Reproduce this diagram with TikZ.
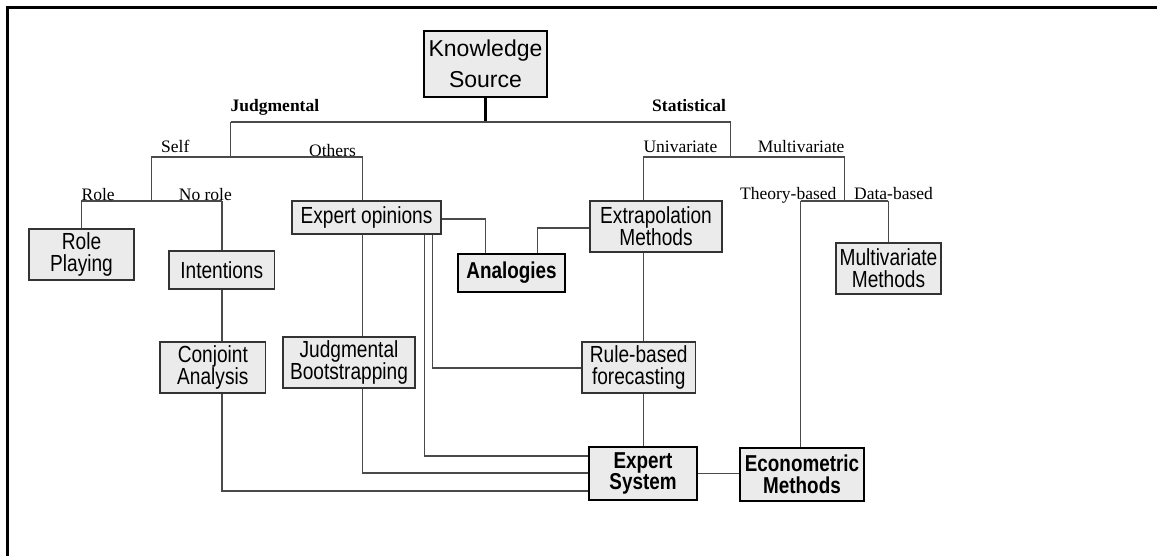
\documentclass[tikz,border=0pt]{standalone}
\usepackage{fontspec}
\newfontfamily\nfont{Liberation Sans}[FakeStretch=0.82]
\newfontfamily\wfont{Liberation Sans}
\newfontfamily\lblfont{Liberation Serif}
\definecolor{boxgray}{HTML}{EBEBEB}
\definecolor{linegray}{HTML}{4A4A4A}
\definecolor{boxline}{HTML}{333333}
\tikzset{
  box/.style={draw=boxline, line width=1.1pt, fill=boxgray, inner sep=0pt, align=center,
    font=\nfont\fontsize{23.3}{21.8}\selectfont},
  thickbox/.style={box, draw=black, line width=2.4pt,
    font=\nfont\bfseries\fontsize{23}{21.8}\selectfont},
  conn/.style={draw=linegray, line width=1.1pt},
  lbl/.style={font=\lblfont\fontsize{17.5}{18}\selectfont, inner sep=0pt, anchor=base west},
}
\begin{document}
\begin{tikzpicture}[x=1pt,y=-1pt]
\useasboundingbox (0,0) rectangle (1157,556);
% frame
\draw[line width=2.6pt] (7.4,556) -- (7.4,7.4) -- (1157,7.4);

% boxes
\node[thickbox, font=\wfont\fontsize{23}{31}\selectfont, minimum width=123, minimum height=66] (ks) at (485.5,64) {Knowledge\\Source};
\node[box, minimum width=105, minimum height=51] (rp) at (81.5,254.5) {Role\\Playing};
\node[box, minimum width=105.5, minimum height=38] (int) at (221.75,270) {Intentions};
\node[box, minimum width=149, minimum height=33] (eo) at (366.5,217.5) {Expert opinions};
\node[thickbox, minimum width=107, minimum height=38] (an) at (511.5,273) {Analogies};
\node[box, minimum width=132, minimum height=51] (em) at (656,226.5) {Extrapolation\\Methods};
\node[box, minimum width=105, minimum height=51] (mm) at (888.5,268.5) {Multivariate\\Methods};
\node[box, minimum width=105.6, minimum height=51] (ca) at (212.8,367.5) {Conjoint\\Analysis};
\node[box, minimum width=132, minimum height=51] (jb) at (349,362.5) {Judgmental\\Bootstrapping};
\node[box, minimum width=113.5, minimum height=51] (rb) at (638.75,367.5) {Rule-based\\forecasting};
\node[thickbox, minimum width=108, minimum height=53] (es) at (643,473.5) {Expert\\System};
\node[thickbox, minimum width=124, minimum height=53] (ecm) at (802,474.5) {Econometric\\Methods};

% junction coordinates
\coordinate (jl) at (230.5,122);
\coordinate (jr) at (730.5,122);
\coordinate (so) at (230.5,157);
\coordinate (sl) at (151.3,157);
\coordinate (or) at (362.6,157);
\coordinate (sd) at (151.3,201);
\coordinate (rl) at (81.4,201);
\coordinate (nr) at (222,201);
\coordinate (sd2) at (730.5,157);
\coordinate (ul) at (643.3,157);
\coordinate (mr) at (844.6,157);
\coordinate (md) at (844.6,201);
\coordinate (tl) at (800.8,201);
\coordinate (dr) at (888.4,201);
\coordinate (ea) at (485.4,219);
\coordinate (ex) at (537.5,228);
\coordinate (jbc) at (362.6,473);
\coordinate (cac) at (222,491);
\coordinate (d1) at (424.3,456);
\coordinate (d2) at (432.8,368);

% connectors
\draw[line width=2.4pt] (ks.south) -- (ks.south |- jl);
\draw[conn] (jl) -- (jr);
\draw[conn] (jl) -- (so);
\draw[conn] (sl) -- (or);
\draw[conn] (sl) -- (sd);
\draw[conn] (rl) -- (nr);
\draw[conn] (rl) -- (rp.north -| rl);
\draw[conn] (nr) -- (int.north -| nr);
\draw[conn] (or) -- (eo.north -| or);
\draw[conn] (eo.east |- ea) -- (ea) -- (an.north -| ea);
\draw[conn] (em.west |- ex) -- (ex) -- (an.north -| ex);
\draw[conn] (eo.south -| or) -- (jb.north -| or);
\draw[conn] (jb.south -| jbc) -- (jbc) -- (es.west |- jbc);
\draw[conn] (int.south -| nr) -- (ca.north -| nr);
\draw[conn] (ca.south -| cac) -- (cac) -- (es.west |- cac);
\draw[conn] (eo.south -| d1) -- (d1) -- (es.west |- d1);
\draw[conn] (eo.south -| d2) -- (d2) -- (rb.west |- d2);
\draw[conn] (jr) -- (sd2);
\draw[conn] (ul) -- (mr);
\draw[conn] (ul) -- (em.north -| ul);
\draw[conn] (em.south -| ul) -- (rb.north -| ul);
\draw[conn] (rb.south -| ul) -- (es.north -| ul);
\draw[conn] (mr) -- (md);
\draw[conn] (tl) -- (dr);
\draw[conn] (tl) -- (ecm.north -| tl);
\draw[conn] (dr) -- (mm.north -| dr);
\draw[conn] (es.east) -- (ecm.west |- es.east);

% labels
\node[lbl, font=\lblfont\bfseries\fontsize{17.5}{18}\selectfont] (lj) at (230.5,112) {Judgmental};
\node[lbl, font=\lblfont\bfseries\fontsize{17.5}{18}\selectfont] (ls) at (652,112) {Statistical};
\node[lbl] (lself) at (161,153) {Self};
\node[lbl] (loth) at (309,156.5) {Others};
\node[lbl] (lrole) at (81.4,200.5) {Role};
\node[lbl] (lnor) at (178.7,200.5) {No role};
\node[lbl] (luni) at (643.3,153) {Univariate};
\node[lbl] (lmul) at (757.7,153) {Multivariate};
\node[lbl] (lthe) at (740,200) {Theory-based};
\node[lbl] (ldat) at (854,200) {Data-based};
\end{tikzpicture}
\end{document}
